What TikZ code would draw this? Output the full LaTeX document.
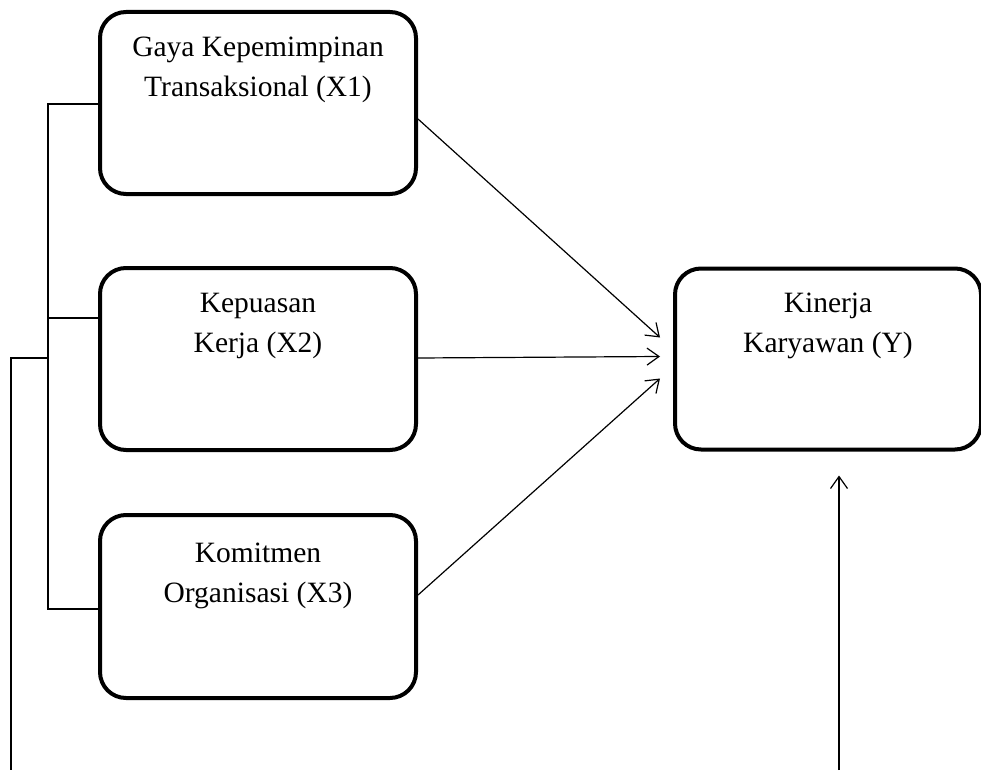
\documentclass[tikz,border=0pt]{standalone}
\usepackage{fontspec}
\setmainfont{Liberation Serif}
\usetikzlibrary{arrows.meta,positioning}

\begin{document}
\begin{tikzpicture}[x=1pt,y=-1pt,->,>={Straight Barb[length=12pt,width=17pt]},line width=1.2pt]
\tikzstyle{var}=[draw,line width=4pt,rectangle,rounded corners=26pt,minimum width=316pt,minimum height=182pt,outer sep=2pt]
\tikzstyle{lbl}=[anchor=base,align=center,inner sep=0pt,font=\fontsize{29.5}{40}\selectfont]
\useasboundingbox (0,0) rectangle (981,770);

\node[var]          (X1) at (258,103) {};
\node[var]          (X2) [below=70pt of X1] {};
\node[var]          (X3) [below=61pt of X2,minimum height=183pt] {};
\node[var]          (Y)  [right=255pt of X2,minimum width=306pt,minimum height=181pt] {};
\node[lbl]          (T1) [below=87pt of X1.north,anchor=base] {Gaya Kepemimpinan\\Transaksional (X1)};
\node[lbl]          (T2) [below=86pt of X2.north,anchor=base] {Kepuasan\\Kerja (X2)};
\node[lbl]          (T3) [below=89pt of X3.north,anchor=base] {Komitmen\\Organisasi (X3)};
\node[lbl]          (TY) [below=86pt of Y.north,anchor=base] {Kinerja\\Karyawan (Y)};
\coordinate         (J)  at (48,358);
\coordinate         (E1) at (11,770);
\coordinate         (E2) at (839,770);

\path
([yshift=-16pt]X1.east) edge ([xshift=-13pt,yshift=21.5pt]Y.west)
([yshift=1pt]X2.east) edge ([xshift=-13pt,yshift=2.5pt]Y.west)
([yshift=11.5pt]X3.east) edge ([xshift=-13pt,yshift=-19.5pt]Y.west)
(E2) edge ([xshift=11pt,yshift=-24pt]Y.south)
;
\draw[-] ([yshift=-1pt]X1.west) -- ++(-50pt,0) |- ([yshift=-2.5pt]X3.west);
\draw[-] ([yshift=41pt]X2.west) -- ++(-50pt,0);
\draw[-] (J) -| (E1);
\end{tikzpicture}
\end{document}
